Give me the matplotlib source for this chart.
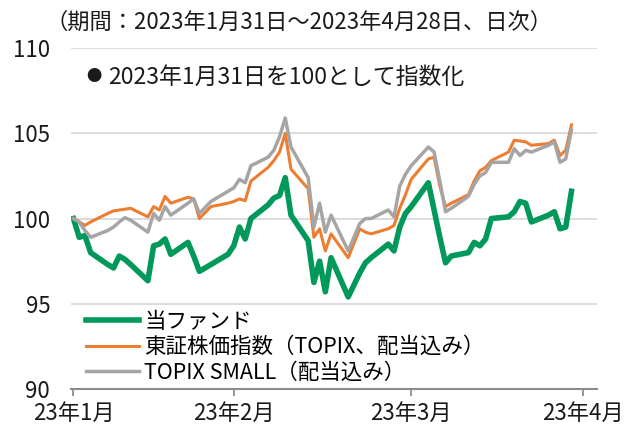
import matplotlib
matplotlib.use("Agg")
import matplotlib.pyplot as plt
import pandas as pd

plt.rcParams['font.family'] = ['Noto Sans CJK JP', 'DejaVu Sans']

# 営業日（2023/1/31～2023/4/28）
dates = pd.to_datetime([
    "2023-01-31",
    "2023-02-01", "2023-02-02", "2023-02-03", "2023-02-06", "2023-02-07",
    "2023-02-08", "2023-02-09", "2023-02-10", "2023-02-13", "2023-02-14",
    "2023-02-15", "2023-02-16", "2023-02-17", "2023-02-20", "2023-02-21",
    "2023-02-22", "2023-02-24", "2023-02-27", "2023-02-28",
    "2023-03-01", "2023-03-02", "2023-03-03", "2023-03-06", "2023-03-07",
    "2023-03-08", "2023-03-09", "2023-03-10", "2023-03-13", "2023-03-14",
    "2023-03-15", "2023-03-16", "2023-03-17", "2023-03-20", "2023-03-22",
    "2023-03-23", "2023-03-24", "2023-03-27", "2023-03-28", "2023-03-29",
    "2023-03-30", "2023-03-31",
    "2023-04-03", "2023-04-04", "2023-04-05", "2023-04-06", "2023-04-07",
    "2023-04-10", "2023-04-11", "2023-04-12", "2023-04-13", "2023-04-14",
    "2023-04-17", "2023-04-18", "2023-04-19", "2023-04-20", "2023-04-21",
    "2023-04-24", "2023-04-25", "2023-04-26", "2023-04-27", "2023-04-28",
])

fund = [
    100.0,
    98.9, 99.0, 98.0, 97.3, 97.1, 97.8, 97.6, 97.3, 96.35, 98.4,
    98.5, 98.8, 97.9, 98.6, 97.8, 96.9, 97.3, 97.9, 98.4,
    99.5, 98.8, 100.0, 100.8, 101.2, 101.35, 102.4, 100.2, 98.7, 96.25,
    97.5, 95.7, 97.7, 95.4, 96.8, 97.4, 97.7, 98.5, 98.1, 99.5,
    100.3, 100.7,
    102.1, 100.5, 98.9, 97.4, 97.8, 98.0, 98.6, 98.4, 98.8, 100.0,
    100.1, 100.4, 101.0, 100.9, 99.8, 100.2, 100.4, 99.4, 99.5, 101.6,
]

topix = [
    100.0,
    99.8, 99.6, 99.8, 100.3, 100.45, 100.5, 100.55, 100.6, 100.1, 100.7,
    100.5, 101.3, 100.9, 101.25, 101.15, 100.0, 100.7, 100.9, 101.0,
    101.15, 101.05, 102.2, 103.0, 103.4, 103.9, 105.0, 102.9, 101.75, 98.9,
    99.4, 98.1, 99.1, 97.7, 99.4, 99.2, 99.1, 99.4, 99.6, 100.6,
    101.4, 102.3,
    103.5, 103.6, 101.9, 100.7, 100.9, 101.4, 102.2, 102.8, 103.0, 103.4,
    103.9, 104.6, 104.55, 104.5, 104.3, 104.4, 104.6, 103.7, 104.0, 105.5,
]

topix_small = [
    100.0,
    99.8, 99.3, 98.9, 99.3, 99.5, 99.8, 100.05, 99.9, 99.2, 100.3,
    99.9, 100.7, 100.2, 100.9, 101.15, 100.3, 101.0, 101.6, 101.8,
    102.3, 102.1, 103.1, 103.6, 104.0, 104.8, 105.9, 104.2, 102.4, 99.5,
    100.9, 99.2, 100.2, 98.1, 99.7, 100.0, 100.0, 100.5, 100.1, 101.9,
    102.6, 103.1,
    104.2, 103.9, 102.2, 100.4, 100.6, 101.3, 102.0, 102.5, 102.7, 103.3,
    103.3, 104.1, 103.7, 104.0, 103.9, 104.3, 104.5, 103.3, 103.5, 105.2,
]

series_labels = ["当ファンド", "東証株価指数（TOPIX、配当込み）", "TOPIX SMALL（配当込み）"]
month_ticks = pd.to_datetime(["2023-01-31", "2023-02-28", "2023-03-31", "2023-04-30"])
month_labels = ["23年1月", "23年2月", "23年3月", "23年4月"]
y_ticks = [90, 95, 100, 105, 110]

fig = plt.figure(figsize=(6.28, 4.26), dpi=100)
ax = fig.add_axes([0.113, 0.087, 0.838, 0.800])

ax.plot(dates, fund, color="#00995A", lw=4.0, label=series_labels[0], zorder=3)
ax.plot(dates, topix, color="#ED7D31", lw=2.2, label=series_labels[1], zorder=3)
ax.plot(dates, topix_small, color="#A5A5A5", lw=2.5, label=series_labels[2], zorder=3)

ax.set_ylim(90, 110)
ax.set_yticks(y_ticks)
ax.set_xlim(pd.Timestamp("2023-01-30 13:30"), pd.Timestamp("2023-05-02 12:00"))
ax.set_xticks(month_ticks)
ax.set_xticklabels(month_labels)

ax.grid(axis="y", color="#D9D9D9", lw=1.3)
ax.set_axisbelow(True)
for side in ["top", "right", "left"]:
    ax.spines[side].set_visible(False)
ax.spines["bottom"].set_color("#8C8C8C")
ax.spines["bottom"].set_linewidth(1.5)
ax.spines["bottom"].set_zorder(4)

ax.tick_params(axis="y", length=0, labelsize=16, pad=15, colors="#1A1A1A")
ax.tick_params(axis="x", length=5, width=1.3, color="#8C8C8C", labelsize=16,
               pad=4, labelcolor="#1A1A1A")

fig.text(0.072, 0.948, "（期間：2023年1月31日～2023年4月28日、日次）",
         fontsize=16, va="center", ha="left", color="#1A1A1A")
# 注記（●は小さめ）
fig.text(0.138, 0.821, "●", fontsize=11, va="center", ha="left", color="#1A1A1A")
fig.text(0.172, 0.819, "2023年1月31日を100として指数化",
         fontsize=16.5, va="center", ha="left", color="#1A1A1A")

fig.legend(loc="upper left", bbox_to_anchor=(86 / 628, 1 - 311 / 426),
           frameon=False, fontsize=15.5, handlelength=2.45, handletextpad=0.25,
           labelspacing=0.15, borderpad=0, borderaxespad=0)

fig.savefig("out.png", dpi=100)
